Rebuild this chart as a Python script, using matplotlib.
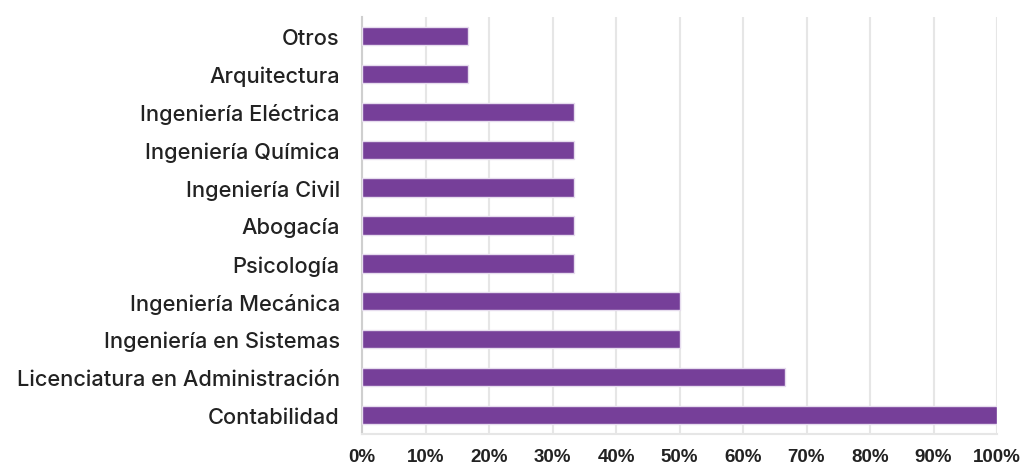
import numpy as np
import matplotlib.pyplot as plt
from matplotlib.ticker import PercentFormatter

carreras = ['Contabilidad', 'Licenciatura en Administración', 'Ingeniería en Sistemas',
            'Ingeniería Mecánica', 'Psicología', 'Abogacía', 'Ingeniería Civil',
            'Ingeniería Química', 'Ingeniería Eléctrica', 'Arquitectura', 'Otros']
porcentajes = [100, 66.67, 50, 50, 33.33, 33.33, 33.33, 33.33, 33.33, 16.67, 16.67]
ticks = np.arange(0, 101, 10)

plt.rcParams['font.family'] = ['Inter', 'Liberation Sans', 'DejaVu Sans']

fig = plt.figure(figsize=(10.24, 4.64), dpi=100)
ax = fig.add_axes([362 / 1024, 1 - 435 / 464, (997 - 362) / 1024, (435 - 18) / 464])

y = np.arange(len(carreras))
ax.barh(y, porcentajes, height=0.48, color='#763f99', edgecolor='#e6dcee', linewidth=1, zorder=3)

ax.set_xlim(0, 100)
ax.set_ylim(-0.5, len(carreras) - 0.5)
ax.set_xticks(ticks)
ax.xaxis.set_major_formatter(PercentFormatter(decimals=0))
ax.set_yticks(y)
ax.set_yticklabels(carreras, fontsize=15.7, fontweight='medium', color='#222222')
for lbl in ax.get_xticklabels():
    lbl.set_family(['Liberation Sans', 'DejaVu Sans'])
    lbl.set_fontweight('bold')
    lbl.set_fontsize(13.5)
    lbl.set_color('#222222')

ax.grid(axis='x', color='#e6e6e6', linewidth=1.5, zorder=0)
ax.tick_params(axis='both', length=0)
ax.tick_params(axis='x', pad=10)
ax.tick_params(axis='y', pad=16)
for side in ['top', 'right']:
    ax.spines[side].set_visible(False)
ax.spines['bottom'].set_color('#e6e6e6')
ax.spines['bottom'].set_linewidth(1.5)
ax.spines['left'].set_color('#cfcfcf')
ax.spines['left'].set_linewidth(1.5)

fig.savefig('out.png', dpi=100)
